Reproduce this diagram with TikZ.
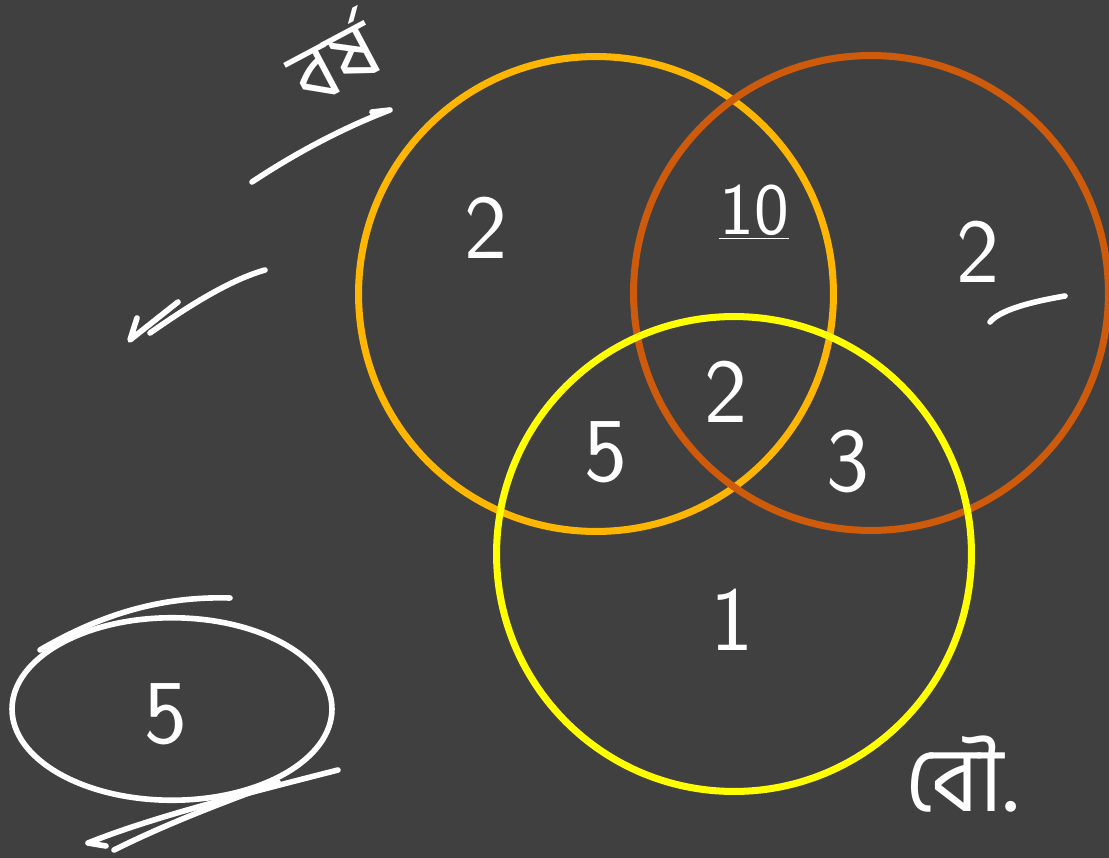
\documentclass[tikz,border=0pt]{standalone}
\usepackage{fontspec}
\newfontfamily\bnfont[Script=Bengali]{Hind Siliguri}
\usetikzlibrary{positioning,shapes.geometric}
\definecolor{board}{RGB}{64,64,64}
\definecolor{ringA}{RGB}{255,182,0}
\definecolor{ringB}{RGB}{206,90,12}
\definecolor{ringC}{RGB}{255,255,0}

\begin{document}
\begin{tikzpicture}[x=0.02cm,y=-0.02cm,
    ring/.style={circle, draw, line width=4pt, minimum size=9.5cm, inner sep=0pt},
    num/.style={text=white, inner sep=0pt, font=\fontsize{52}{56}\selectfont\sffamily},
    word/.style={text=white, inner sep=0pt, font=\fontsize{46}{50}\selectfont\bnfont},
    scrib/.style={draw=white, line width=3.2pt, line cap=round, line join=round}
  ]
  \fill[board] (0,0) rectangle (1109,858);
  \useasboundingbox (0,0) rectangle (1109,858);

  % the three sets
  \node[ring,draw=ringA] (setA) at (596,294) {};
  \node[ring,draw=ringB] (setB) at (871,293) {};
  \node[ring,draw=ringC] (setC) at (734,554) {};

  % counts in each region
  \node[num] (onlyA) at (486,228) {2};
  \node[num,font=\fontsize{42}{46}\selectfont\sffamily] (AB) at (754,212) {\underline{10}};
  \node[num] (onlyB) at (978,252) {2};
  \node[num] (ABC) at (726,392) {2};
  \node[num] (AC) at (606,452) {5};
  \node[num] (BC) at (848,462) {3};
  \node[num] (onlyC) at (732,620) {1};

  % outside all sets
  \node[draw=white, line width=3.2pt, ellipse, minimum width=6.4cm, minimum height=3.65cm,
        inner sep=0pt] (rest) at (172,709) {};
  \node[num] (none) at (166,714) {5};
  \draw[scrib] (40,650) .. controls (100,615) and (160,596) .. (230,598);
  \draw[scrib] (338,770) .. controls (240,795) and (150,818) .. (88,843)
               -- (106,846);
  \draw[scrib] (114,850) .. controls (170,822) and (230,800) .. (278,782);

  % notes
  \node[word,rotate=28] (noteA) at (332,58) {বর্ষ};
  \draw[scrib] (252,182) .. controls (300,150) and (350,125) .. (390,110)
               -- (372,112);
  \draw[scrib] (137,318) -- (130,340) -- (178,302);
  \draw[scrib] (150,333) .. controls (190,305) and (230,280) .. (265,270);
  \draw[scrib] (990,322) .. controls (1000,310) and (1030,302) .. (1065,296);
  \node[word,font=\fontsize{52}{56}\selectfont\bnfont] (noteC) at (962,774) {বৌ.};
\end{tikzpicture}
\end{document}
